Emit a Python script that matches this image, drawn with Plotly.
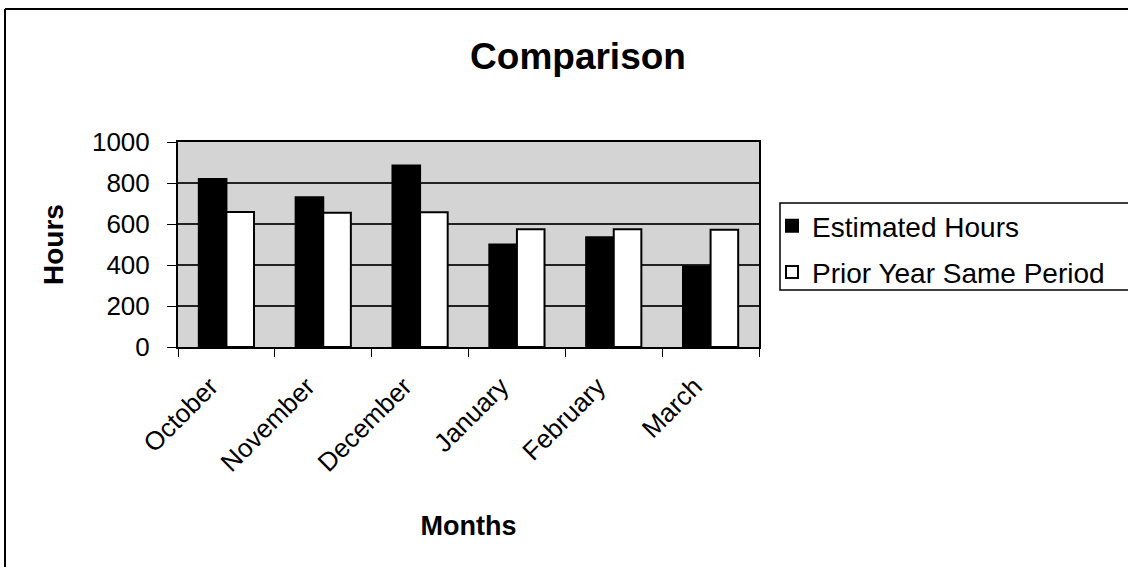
import plotly.graph_objects as go

months = ["October", "November", "December", "January", "February", "March"]
estimated_hours = [820, 730, 885, 500, 535, 393]
prior_year = [658, 655, 657, 575, 575, 572]
y_ticks = [0, 200, 400, 600, 800, 1000]

FONT = "Arial, Liberation Sans, sans-serif"

fig = go.Figure()
fig.add_trace(go.Bar(x=months, y=estimated_hours, name="Estimated Hours",
                     legendgroup="a",
                     marker=dict(color="black", line=dict(color="black", width=2))))
fig.add_trace(go.Bar(x=months, y=prior_year, name="Prior Year Same Period",
                     legendgroup="b",
                     marker=dict(color="white", line=dict(color="black", width=2))))

L, R, T, B = 178, 759, 142, 347
W, H = 1128, 567
pw, ph = R - L, B - T

def px(x):
    return (x - L) / pw

def py(y):
    return (B - y) / ph

fig.update_layout(
    width=W, height=H,
    margin=dict(l=L, r=W - R, t=T, b=H - B),
    paper_bgcolor="white",
    plot_bgcolor="#d4d4d4",
    barmode="group", bargap=0.43, bargroupgap=0,
    font=dict(family=FONT, color="black", size=26),
    title=dict(text="<b>Comparison</b>", x=578 / W, xanchor="center",
               y=1 - 56 / H, yanchor="middle", font=dict(size=37, family=FONT)),
    legend=dict(x=px(772), y=py(201), xanchor="left", yanchor="top",
                borderwidth=0, bgcolor="rgba(0,0,0,0)",
                font=dict(size=28, family=FONT), tracegroupgap=7,
                itemsizing="constant"),
    xaxis=dict(
        title=dict(text="<b>Months</b>", font=dict(size=27), standoff=40),
        tickangle=-45, ticks="outside", tickson="boundaries", ticklen=8,
        tickcolor="black", showline=True, linecolor="black", linewidth=2,
        mirror=True, showgrid=False, tickfont=dict(size=26),
        ticklabelstandoff=12, ticklabelshift=-16,
    ),
    yaxis=dict(
        title=dict(text="<b>Hours</b>", font=dict(size=28), standoff=20),
        range=[0, 1000], tickvals=y_ticks, ticks="outside", ticklen=9,
        tickcolor="black", showline=True, linecolor="black", linewidth=2,
        mirror=True, showgrid=True, gridcolor="#222222", gridwidth=1.5,
        tickfont=dict(size=26), zeroline=False, ticklabelstandoff=12,
    ),
    shapes=[
        dict(type="line", xref="paper", yref="paper", x0=px(5), x1=px(5),
             y0=py(9), y1=py(567), line=dict(color="black", width=2)),
        dict(type="line", xref="paper", yref="paper", x0=px(5), x1=px(1128),
             y0=py(9), y1=py(9), line=dict(color="black", width=2)),
        dict(type="rect", xref="paper", yref="paper", x0=px(780), x1=px(1140),
             y0=py(290), y1=py(203), line=dict(color="black", width=1.5),
             fillcolor="rgba(0,0,0,0)"),
    ],
)

fig.write_html("out.html", config={"displayModeBar": False},
               post_script="document.body.style.margin='0';document.body.style.overflow='hidden';")
